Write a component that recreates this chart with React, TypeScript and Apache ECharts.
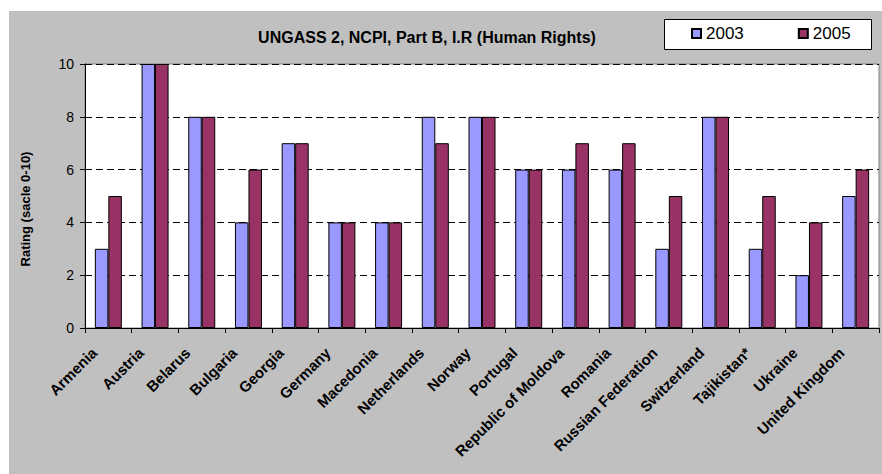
import React, { useEffect, useRef } from "react";
import * as echarts from "echarts";

const categories = [
  "Armenia", "Austria", "Belarus", "Bulgaria", "Georgia", "Germany", "Macedonia",
  "Netherlands", "Norway", "Portugal", "Republic of Moldova", "Romania",
  "Russian Federation", "Switzerland", "Tajikistan*", "Ukraine", "United Kingdom",
];
const values2003 = [3, 10, 8, 4, 7, 4, 4, 8, 8, 6, 6, 6, 3, 8, 3, 2, 5];
const values2005 = [5, 10, 8, 6, 7, 4, 4, 7, 8, 6, 7, 7, 5, 8, 5, 4, 6];
const seriesNames = ["2003", "2005"];
const titleText = "UNGASS 2, NCPI, Part B, I.R (Human Rights)";
const yAxisTitle = "Rating (sacle 0-10)";

const FONT = "'Liberation Sans', Arial, sans-serif";

export default function App() {
  const ref = useRef<HTMLDivElement>(null);
  useEffect(() => {
    if (!ref.current) return;
    const chart = echarts.init(ref.current, null, { renderer: "svg" });
    chart.setOption({
      animation: false,
      backgroundColor: "transparent",
      textStyle: { fontFamily: FONT },
      graphic: [
        {
          type: "text",
          x: 427,
          y: 37,
          style: {
            text: titleText,
            font: `bold 16px ${FONT}`,
            fill: "#000",
            align: "center",
            verticalAlign: "middle",
          },
        },
        {
          type: "text",
          x: 25,
          y: 209,
          rotation: Math.PI / 2,
          style: {
            text: yAxisTitle,
            font: `bold 13px ${FONT}`,
            fill: "#000",
            align: "center",
            verticalAlign: "middle",
          },
        },
        {
          type: "rect",
          z: -1,
          shape: { x: 664.5, y: 19.5, width: 207, height: 30 },
          style: { fill: "#fff", stroke: "#000", lineWidth: 1 },
        },
      ],
      legend: {
        data: seriesNames,
        left: 691,
        top: 25,
        padding: 0,
        itemGap: 54,
        itemWidth: 9,
        itemHeight: 9,
        icon: "rect",
        textStyle: { fontSize: 17, lineHeight: 17, color: "#000", fontFamily: FONT },
      },
      grid: {
        left: 85,
        top: 64,
        right: 3,
        bottom: 146,
        show: true,
        backgroundColor: "#fff",
        borderColor: "#808080",
        borderWidth: 1,
        containLabel: false,
        outerBoundsMode: "none",
      },
      xAxis: {
        type: "category",
        data: categories,
        axisLine: { show: true, lineStyle: { color: "#000", width: 1 } },
        axisTick: { show: true, alignWithLabel: false, length: 5, lineStyle: { color: "#000" } },
        axisLabel: {
          interval: 0,
          rotate: 45,
          margin: 8,
          formatter: (v: string) => `{a|${v}}{s|}`,
          rich: {
            a: {
              fontSize: 15,
              fontWeight: "bold",
              color: "#000",
              fontFamily: FONT,
            },
            s: { width: 20, height: 10 },
          },
          fontSize: 15,
          fontWeight: "bold",
          color: "#000",
          fontFamily: FONT,
        },
        splitLine: { show: false },
      },
      yAxis: {
        type: "value",
        min: 0,
        max: 10,
        interval: 2,
        axisLine: { show: true, lineStyle: { color: "#000", width: 1 } },
        axisTick: { show: true, length: 5, lineStyle: { color: "#000" } },
        axisLabel: { fontSize: 14, color: "#000", margin: 11, fontFamily: FONT },
        splitLine: { show: true, lineStyle: { color: "#000", type: [7, 4], width: 1 } },
      },
      series: [
        {
          name: seriesNames[0],
          type: "bar",
          data: values2003,
          barWidth: 13.5,
          barGap: "0%",
          itemStyle: { color: "#9999FF", borderColor: "#000", borderWidth: 1 },
        },
        {
          name: seriesNames[1],
          type: "bar",
          data: values2005,
          barWidth: 13.5,
          barGap: "0%",
          itemStyle: { color: "#993366", borderColor: "#000", borderWidth: 1 },
        },
      ],
    });
    return () => chart.dispose();
  }, []);
  return (
    <div style={{ position: "absolute", left: 0, top: 0, width: 882, height: 474, background: "#fff" }}>
      <div style={{ position: "absolute", left: 9, top: 11, width: 873, height: 463, background: "#C0C0C0" }} />
      <div ref={ref} style={{ position: "absolute", left: 0, top: 0, width: 882, height: 474 }} />
    </div>
  );
}
